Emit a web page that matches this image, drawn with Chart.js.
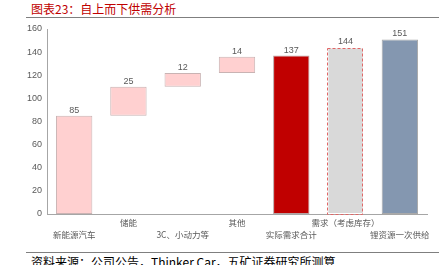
<!DOCTYPE html>
<html>
<head>
<meta charset="utf-8">
<script src="https://cdn.jsdelivr.net/npm/chart.js@4"></script>
<style>
  html, body { margin: 0; padding: 0; background: #fff; }
  body { width: 447px; height: 265px; position: relative; overflow: hidden;
         font-family: "Noto Sans CJK SC", "Liberation Sans", sans-serif; }
  #title { position: absolute; left: 31px; top: 1px; font-size: 12px; color: #c00000; line-height: 16px; }
  .rule { position: absolute; left: 26px; width: 413px; height: 1px; background: #7f7f7f; }
  #source { position: absolute; left: 31px; top: 254px; font-size: 12px; color: #000; line-height: 16px; white-space: nowrap; }
  #wrap { position: absolute; left: 0; top: 0; width: 447px; height: 250px; }
</style>
</head>
<body>
<div id="title">图表23：自上而下供需分析</div>
<div class="rule" style="top:17px"></div>
<div id="wrap"><canvas id="c"></canvas></div>
<div class="rule" style="top:252px"></div>
<div id="source">资料来源：公司公告，Thinker Car，五矿证券研究所测算</div>
<script>
// categories, lower row labels get an empty first line
var categories = ['新能源汽车', '储能', '3C、小动力等', '其他', '实际需求合计', '需求（考虑库存）', '锂资源一次供给'];
var barBase   = [0, 85, 110, 122, 0, 0, 0];
var barTop    = [85, 110, 122, 136, 137, 144, 151];
var shownVals = [85, 25, 12, 14, 137, 144, 151];
var yTicks    = [0, 20, 40, 60, 80, 100, 120, 140, 160];

var fillColors = ['#ffd0d0', '#ffd0d0', '#ffd0d0', '#ffd0d0', '#c00000', '#d9d9d9', '#8497b0'];
var edgeColors = ['#c9b3b3', '#c9b3b3', '#c9b3b3', '#c9b3b3', '#b7a3a3', 'rgba(0,0,0,0)', '#a9a9a9'];

var LATIN = '"Liberation Sans", Arial, sans-serif';
var CJK = '"Noto Sans CJK SC", "Liberation Sans", sans-serif';

var floating = [];
for (let i = 0; i < categories.length; i++) floating.push([barBase[i], barTop[i]]);

var tickLabels = categories.map(function(c, i) { return i % 2 === 0 ? ['', c] : [c]; });

// value labels above each bar + dashed outline for the inventory bar
const barExtras = {
    id: 'barExtras',
    afterDatasetsDraw(chart) {
        const ctx = chart.ctx;
        const meta = chart.getDatasetMeta(0);
        ctx.save();
        meta.data.forEach(function(bar, i) {
            const top = Math.min(bar.y, bar.base);
            if (i === 5) {
                ctx.setLineDash([3, 2]);
                ctx.strokeStyle = '#e06666';
                ctx.lineWidth = 1;
                ctx.strokeRect(Math.round(bar.x - bar.width / 2) + 0.5, Math.round(top) + 0.5,
                               Math.round(bar.width) - 1, Math.round(Math.abs(bar.base - bar.y)) - 1);
                ctx.setLineDash([]);
            }
            ctx.fillStyle = '#595959';
            ctx.font = '9px ' + LATIN;
            ctx.textAlign = 'center';
            ctx.textBaseline = 'bottom';
            ctx.fillText(String(shownVals[i]), bar.x, top - 1);
        });
        ctx.restore();
    }
};

new Chart(document.getElementById('c'), {
    type: 'bar',
    data: {
        labels: tickLabels,
        datasets: [{
            data: floating,
            backgroundColor: fillColors,
            borderColor: edgeColors,
            borderWidth: 1,
            borderSkipped: false,
            barPercentage: 0.67,
            categoryPercentage: 1.0
        }]
    },
    options: {
        responsive: true,
        maintainAspectRatio: false,
        animation: false,
        layout: { padding: { left: 0, top: 29, right: 20, bottom: 0 } },
        plugins: { legend: { display: false }, tooltip: { enabled: false } },
        scales: {
            x: {
                grid: { display: false, drawTicks: false },
                border: { color: '#a6a6a6' },
                ticks: {
                    color: '#595959', font: { size: 8.5, family: CJK, lineHeight: 1.4 },
                    maxRotation: 0, autoSkip: false, padding: 3
                },
                afterFit: function(s) { s.height = 36; }
            },
            y: {
                min: 0, max: 160,
                grid: { display: false, drawTicks: false },
                border: { color: '#a6a6a6' },
                afterBuildTicks: function(s) { s.ticks = yTicks.map(function(v) { return { value: v }; }); },
                ticks: { color: '#595959', font: { size: 9, family: LATIN }, padding: 5 },
                afterFit: function(s) { s.width = 47; }
            }
        }
    },
    plugins: [barExtras]
});
</script>
</body>
</html>
